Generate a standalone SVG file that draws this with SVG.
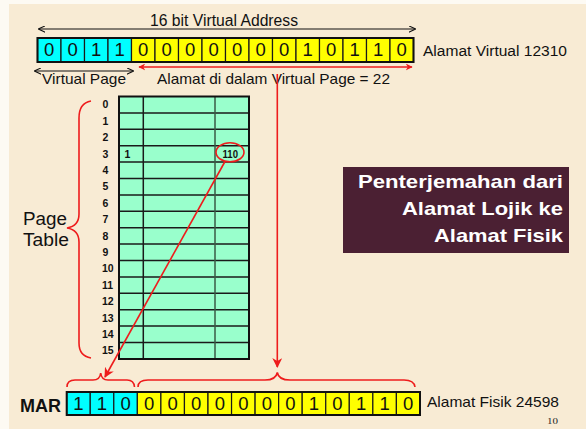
<svg xmlns="http://www.w3.org/2000/svg" width="586" height="429" viewBox="0 0 586 429">
  <defs>
    <style>
      .sans { font-family: "Liberation Sans", Arial, sans-serif; fill: #111; }
      .bit { font-family: "Liberation Sans", Arial, sans-serif; font-size: 18.5px; fill: #111; text-anchor: middle; }
      .cyan { fill: #00ffff; stroke: #1a1a1a; stroke-width: 1.2; }
      .yellow { fill: #ffff00; stroke: #1a1a1a; stroke-width: 1.2; }
      .frame { fill: none; stroke: #111; stroke-width: 2; }
      .row { font-family: "Liberation Sans", Arial, sans-serif; font-size: 10.5px; font-weight: bold; fill: #111; }
      .red { fill: none; stroke: #ee1c1c; stroke-width: 1.6; }
      .blk { fill: none; stroke: #111; stroke-width: 1.2; }
      .title { font-family: "Liberation Sans", Arial, sans-serif; font-size: 18.5px; font-weight: bold; fill: #ffffff; text-anchor: end; }
    </style>
    <marker id="redHead" viewBox="0 0 10 10" refX="9" refY="5" markerWidth="7" markerHeight="7" markerUnits="userSpaceOnUse" orient="auto-start-reverse">
      <path d="M0,0 L10,5 L0,10 L3,5 Z" fill="#ee1c1c"/>
    </marker>
    <marker id="redHeadBig" viewBox="0 0 10 10" refX="9" refY="5" markerWidth="10" markerHeight="10" markerUnits="userSpaceOnUse" orient="auto-start-reverse">
      <path d="M0,0 L10,5 L0,10 L3,5 Z" fill="#ee1c1c"/>
    </marker>
    <marker id="blkHead" viewBox="0 0 10 10" refX="9" refY="5" markerWidth="7" markerHeight="7" markerUnits="userSpaceOnUse" orient="auto-start-reverse">
      <path d="M0,0.5 L10,5 L0,9.5" fill="none" stroke="#111" stroke-width="1.6"/>
    </marker>
  </defs>

  <!-- slide background -->
  <rect x="0" y="0" width="586" height="429" fill="#fdfaf3"/>
  <rect x="9" y="4" width="577" height="425" fill="#f8ebd4"/>

  <!-- virtual address register: 4-bit page number + 12-bit offset -->
  <g id="virtual-address">
    <rect class="cyan" x="37.5" y="38" width="23.5" height="24"/>
    <rect class="cyan" x="61" y="38" width="23.5" height="24"/>
    <rect class="cyan" x="84.5" y="38" width="23.5" height="24"/>
    <rect class="cyan" x="108" y="38" width="23.5" height="24"/>
    <rect class="yellow" x="131.5" y="38" width="23.5" height="24"/>
    <rect class="yellow" x="155" y="38" width="23.5" height="24"/>
    <rect class="yellow" x="178.5" y="38" width="23.5" height="24"/>
    <rect class="yellow" x="202" y="38" width="23.5" height="24"/>
    <rect class="yellow" x="225.5" y="38" width="23.5" height="24"/>
    <rect class="yellow" x="249" y="38" width="23.5" height="24"/>
    <rect class="yellow" x="272.5" y="38" width="23.5" height="24"/>
    <rect class="yellow" x="296" y="38" width="23.5" height="24"/>
    <rect class="yellow" x="319.5" y="38" width="23.5" height="24"/>
    <rect class="yellow" x="343" y="38" width="23.5" height="24"/>
    <rect class="yellow" x="366.5" y="38" width="23.5" height="24"/>
    <rect class="yellow" x="390" y="38" width="23.5" height="24"/>
    <rect class="frame" x="37.5" y="38" width="376" height="24"/>
    <g class="bit">
      <text x="49.25" y="56">0</text>
      <text x="72.75" y="56">0</text>
      <text x="96.25" y="56">1</text>
      <text x="119.75" y="56">1</text>
      <text x="143.25" y="56">0</text>
      <text x="166.75" y="56">0</text>
      <text x="190.25" y="56">0</text>
      <text x="213.75" y="56">0</text>
      <text x="237.25" y="56">0</text>
      <text x="260.75" y="56">0</text>
      <text x="284.25" y="56">0</text>
      <text x="307.75" y="56">1</text>
      <text x="331.25" y="56">0</text>
      <text x="354.75" y="56">1</text>
      <text x="378.25" y="56">1</text>
      <text x="401.75" y="56">0</text>
    </g>
    <text class="sans" x="150" y="26" font-size="16" textLength="148" lengthAdjust="spacingAndGlyphs">16 bit Virtual Address</text>
    <text class="sans" x="423" y="56" font-size="15.5" textLength="144" lengthAdjust="spacingAndGlyphs">Alamat Virtual 12310</text>
    <text class="sans" x="42" y="84" font-size="15" textLength="84" lengthAdjust="spacingAndGlyphs">Virtual Page</text>
    <text class="sans" x="157" y="84" font-size="15" textLength="233" lengthAdjust="spacingAndGlyphs">Alamat di dalam Virtual Page = 22</text>
  </g>

  <!-- page table: 16 entries -->
  <g id="page-table">
    <rect x="119" y="96.5" width="130" height="262.5" fill="#99ffcc"/>
    <g stroke="#1a1a1a" stroke-width="1.5">
      <line x1="119" y1="112.9" x2="249" y2="112.9"/>
      <line x1="119" y1="129.3" x2="249" y2="129.3"/>
      <line x1="119" y1="145.7" x2="249" y2="145.7"/>
      <line x1="119" y1="162.1" x2="249" y2="162.1"/>
      <line x1="119" y1="178.5" x2="249" y2="178.5"/>
      <line x1="119" y1="194.9" x2="249" y2="194.9"/>
      <line x1="119" y1="211.3" x2="249" y2="211.3"/>
      <line x1="119" y1="227.7" x2="249" y2="227.7"/>
      <line x1="119" y1="244.1" x2="249" y2="244.1"/>
      <line x1="119" y1="260.5" x2="249" y2="260.5"/>
      <line x1="119" y1="276.9" x2="249" y2="276.9"/>
      <line x1="119" y1="293.3" x2="249" y2="293.3"/>
      <line x1="119" y1="309.7" x2="249" y2="309.7"/>
      <line x1="119" y1="326.1" x2="249" y2="326.1"/>
      <line x1="119" y1="342.5" x2="249" y2="342.5"/>
      <line x1="143.3" y1="96.5" x2="143.3" y2="359"/>
    </g>
    <line x1="215" y1="96.5" x2="215" y2="359" stroke="#3a5a46" stroke-width="1.5"/>
    <rect class="frame" x="119" y="96.5" width="130" height="262.5"/>
    <g class="row">
      <text x="102.5" y="108.3">0</text>
      <text x="102.5" y="124.7">1</text>
      <text x="102.5" y="141.1">2</text>
      <text x="102.5" y="157.5">3</text>
      <text x="102.5" y="173.9">4</text>
      <text x="102.5" y="190.3">5</text>
      <text x="102.5" y="206.7">6</text>
      <text x="102.5" y="223.1">7</text>
      <text x="102.5" y="239.5">8</text>
      <text x="102.5" y="255.9">9</text>
      <text x="102" y="272.3">10</text>
      <text x="102" y="288.7">11</text>
      <text x="102" y="305.1">12</text>
      <text x="102" y="321.5">13</text>
      <text x="102" y="337.9">14</text>
      <text x="102" y="354.3">15</text>
      <text x="124.5" y="157.5">1</text>
      <text x="222.5" y="157.5" textLength="15.5" lengthAdjust="spacingAndGlyphs">110</text>
    </g>
    <text class="sans" x="23" y="225" font-size="17.5" textLength="44" lengthAdjust="spacingAndGlyphs">Page</text>
    <text class="sans" x="23" y="246" font-size="17.5" textLength="46" lengthAdjust="spacingAndGlyphs">Table</text>
  </g>

  <!-- physical address in MAR: 3-bit frame number + 12-bit offset -->
  <g id="mar">
    <rect class="cyan" x="66.7" y="392" width="23.55" height="23"/>
    <rect class="cyan" x="90.25" y="392" width="23.55" height="23"/>
    <rect class="cyan" x="113.8" y="392" width="23.55" height="23"/>
    <rect class="yellow" x="137.35" y="392" width="23.55" height="23"/>
    <rect class="yellow" x="160.9" y="392" width="23.55" height="23"/>
    <rect class="yellow" x="184.45" y="392" width="23.55" height="23"/>
    <rect class="yellow" x="208" y="392" width="23.55" height="23"/>
    <rect class="yellow" x="231.55" y="392" width="23.55" height="23"/>
    <rect class="yellow" x="255.1" y="392" width="23.55" height="23"/>
    <rect class="yellow" x="278.65" y="392" width="23.55" height="23"/>
    <rect class="yellow" x="302.2" y="392" width="23.55" height="23"/>
    <rect class="yellow" x="325.75" y="392" width="23.55" height="23"/>
    <rect class="yellow" x="349.3" y="392" width="23.55" height="23"/>
    <rect class="yellow" x="372.85" y="392" width="23.55" height="23"/>
    <rect class="yellow" x="396.4" y="392" width="23.55" height="23"/>
    <rect class="frame" x="66.7" y="392" width="353.3" height="23"/>
    <g class="bit">
      <text x="78.5" y="409.5">1</text>
      <text x="102" y="409.5">1</text>
      <text x="125.6" y="409.5">0</text>
      <text x="149.1" y="409.5">0</text>
      <text x="172.7" y="409.5">0</text>
      <text x="196.2" y="409.5">0</text>
      <text x="219.8" y="409.5">0</text>
      <text x="243.3" y="409.5">0</text>
      <text x="266.9" y="409.5">0</text>
      <text x="290.4" y="409.5">0</text>
      <text x="314" y="409.5">1</text>
      <text x="337.5" y="409.5">0</text>
      <text x="361.1" y="409.5">1</text>
      <text x="384.6" y="409.5">1</text>
      <text x="408.2" y="409.5">0</text>
    </g>
    <text class="sans" x="20" y="412" font-size="18.5" font-weight="bold" textLength="41" lengthAdjust="spacingAndGlyphs">MAR</text>
    <text class="sans" x="427" y="407" font-size="15" textLength="132" lengthAdjust="spacingAndGlyphs">Alamat Fisik 24598</text>
  </g>

  <!-- caption box -->
  <g id="caption">
    <rect x="343" y="167" width="226" height="86" fill="#4b2033"/>
    <text class="title" x="563" y="188" textLength="205" lengthAdjust="spacingAndGlyphs">Penterjemahan dari</text>
    <text class="title" x="563" y="215" textLength="161" lengthAdjust="spacingAndGlyphs">Alamat Lojik ke</text>
    <text class="title" x="563" y="242" textLength="129" lengthAdjust="spacingAndGlyphs">Alamat Fisik</text>
  </g>

  <!-- connectors, spans and braces -->
  <g id="connectors">
    <line class="blk" x1="39" y1="29" x2="415" y2="29" marker-start="url(#blkHead)" marker-end="url(#blkHead)"/>
    <line class="blk" x1="35" y1="71" x2="133" y2="71" marker-start="url(#blkHead)" marker-end="url(#blkHead)"/>
    <line class="red" x1="139" y1="67" x2="412" y2="67" marker-start="url(#redHead)" marker-end="url(#redHead)"/>
    <line class="red" x1="277.3" y1="74" x2="277.3" y2="367" marker-end="url(#redHeadBig)"/>
    <ellipse class="red" cx="230" cy="152.3" rx="14" ry="9.5"/>
    <line class="red" x1="225" y1="161.5" x2="105" y2="377" marker-end="url(#redHeadBig)"/>
    <path class="red" d="M91,101 Q79,103 79,118 L79,214 Q79,226 67,228 Q79,230 79,242 L79,343 Q79,356 91,358"/>
    <path class="red" d="M67,387 Q67,380 75,380 L93,380 Q100,380 100.7,373 Q101.5,380 108,380 L127,380 Q134,380 134.5,387"/>
    <path class="red" d="M138,387 Q138,380 148,380 L265,380 Q276,380 277.3,372.5 Q278.5,380 290,380 L404,380 Q414,380 415,387"/>
  </g>

  <!-- slide number -->
  <text x="547" y="424" font-family="'Liberation Serif', 'Times New Roman', serif" font-size="9" fill="#222" textLength="11" lengthAdjust="spacingAndGlyphs">10</text>
</svg>
